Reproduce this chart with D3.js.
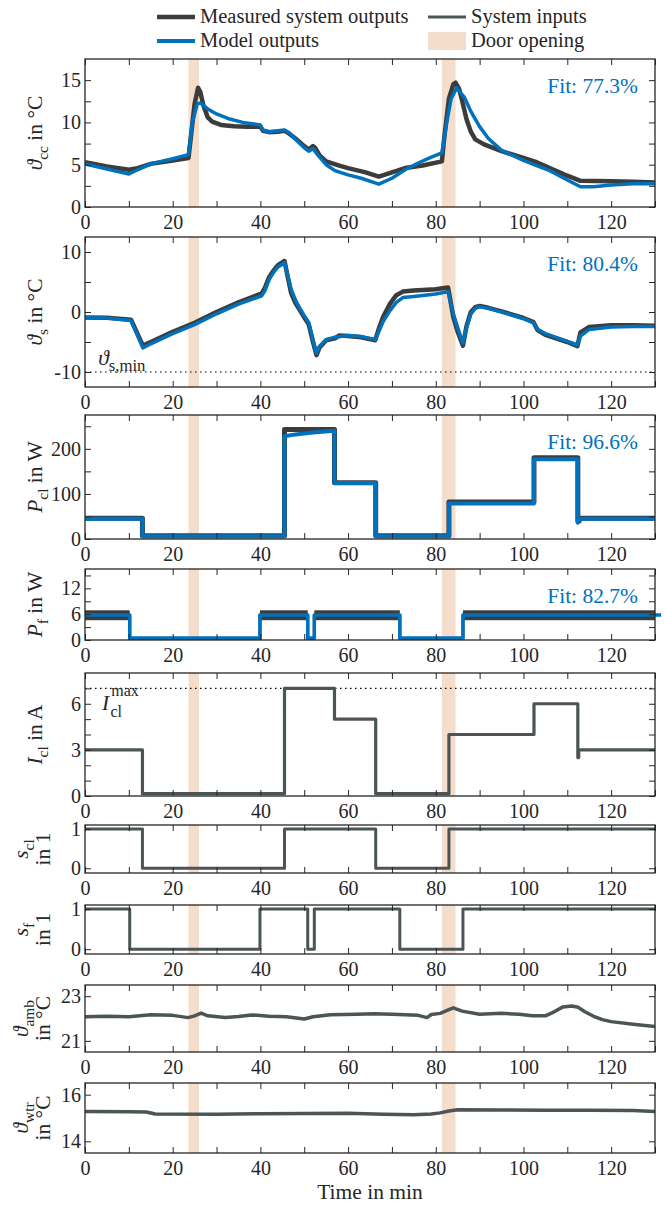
<!DOCTYPE html>
<html>
<head>
<meta charset="utf-8">
<script src="https://cdn.jsdelivr.net/npm/d3@7"></script>
<style>
body { margin: 0; background: #fff; }
</style>
</head>
<body>
<svg id="chart" width="664" height="1205" style="font-family: 'Liberation Serif', 'DejaVu Serif', serif;"></svg>
<script>
// ---- data ----
var doorOpenings = [[23.6, 26.0], [81.4, 84.5]];
var timeTicks = d3.range(0, 131, 10);

var ccMeasured = [[0,5.3],[5,4.8],[10,4.4],[12,4.6],[15,5.1],[20,5.5],[23.6,5.8],[24.3,9],[25,12.2],[25.8,14.1],[26.3,13.6],[27,12.0],[28,10.6],[29,10.1],[31,9.7],[34,9.55],[37,9.5],[40,9.5],[40.6,9.0],[42,8.85],[44,8.9],[45.5,9.0],[46.5,8.7],[48,8.1],[50,7.2],[51,6.8],[52,7.2],[52.5,7.0],[53.5,6.1],[55,5.4],[58,4.9],[60,4.6],[64,4.1],[67,3.6],[70,4.1],[73,4.6],[77,4.9],[81.4,5.4],[82,8.5],[83,12.8],[84,14.5],[84.5,14.7],[85.3,14.0],[86,12.6],[87,10.4],[88,8.9],[89,8.0],[91,7.4],[95,6.6],[100,5.8],[103,5.3],[106,4.6],[110,3.7],[113,3.1],[120,3.05],[125,3.0],[130,2.9]];
var ccModel = [[0,5.1],[5,4.5],[10,3.9],[12,4.4],[15,5.1],[20,5.7],[23.6,6.2],[24.5,10],[25.6,12.2],[26.3,12.3],[28,11.6],[30,11.0],[33,10.4],[36,10.0],[40,9.7],[40.6,9.1],[42,8.9],[45.5,9.1],[46.5,8.8],[48,8.0],[50,7.0],[51,6.6],[52,6.9],[53,6.2],[55,5.0],[57,4.3],[60,3.8],[63,3.4],[67,2.7],[70,3.4],[73,4.4],[76,5.2],[79,5.9],[81.4,6.4],[82.5,10],[83.5,12.8],[84.8,14.1],[85.5,13.6],[86.5,13.0],[88,11.3],[90,9.5],[92,8.1],[95,6.7],[100,5.5],[103,4.9],[106,4.3],[110,3.2],[113,2.4],[116,2.4],[120,2.6],[125,2.75],[130,2.75]];

var sMeasured = [[0,-0.9],[5,-0.95],[10.5,-1.3],[13.2,-5.6],[15,-5.0],[20,-3.3],[25,-1.8],[30,0],[35,1.6],[40.3,3.1],[41,4.0],[42,5.8],[43,6.9],[44,7.8],[45.5,8.5],[46.2,6.0],[47,3.2],[48,1.5],[49,0.3],[50,-0.9],[51,-2.0],[52,-5.0],[52.8,-7.2],[53.5,-5.9],[55,-4.7],[57,-4.4],[58,-3.9],[60,-4.0],[63,-4.2],[66.2,-4.7],[67,-2.8],[68,-0.8],[69.5,1.3],[71,2.8],[72.5,3.4],[75,3.6],[80,3.8],[82.8,4.1],[84,-0.8],[85,-3.3],[86.2,-5.6],[87,-2.4],[88,0],[89,0.8],[90,1.0],[92,0.7],[95,0.1],[100,-1.0],[102.3,-1.7],[103.2,-3.0],[105,-3.8],[110,-5.0],[112.3,-5.7],[113,-3.4],[115,-2.5],[120,-2.2],[125,-2.2],[130,-2.3]];
var sModel = [[0,-0.95],[5,-1.0],[10.5,-1.4],[13.2,-6.0],[15,-5.3],[20,-3.6],[25,-2.1],[30,-0.3],[35,1.3],[40.3,2.7],[41,3.5],[42,5.4],[43,6.6],[44,7.5],[45.5,8.2],[46.2,6.2],[47,3.8],[48,2.0],[49,0.6],[50,-0.6],[51,-1.7],[52,-4.6],[52.8,-6.9],[53.5,-5.7],[55,-4.6],[57,-4.2],[60,-3.9],[63,-4.1],[66.2,-4.6],[67,-3.3],[68,-1.6],[69.5,0.2],[71,1.6],[72.5,2.4],[75,2.6],[80,3.0],[82.8,3.4],[84,-0.3],[85,-2.6],[86.2,-5.2],[87,-2.6],[88,-0.3],[89,0.6],[90,0.9],[92,0.6],[95,0],[100,-1.1],[102.3,-1.8],[103.2,-2.9],[105,-3.6],[110,-4.9],[112.3,-5.5],[113,-4.0],[115,-2.9],[120,-2.5],[125,-2.4],[130,-2.4]];
var sMin = -10;

var pclMeasured = [[0,46],[13.1,7],[45.5,243],[56.9,125],[66.3,7],[83,82],[102.4,180],[112.4,40],[112.7,46],[130,46]];
var pclModel = [[0,45],[13.1,45],[13.1,6],[45.5,6],[45.5,228],[48,232],[52,236],[56.9,240],[56.9,124],[66.3,124],[66.3,6],[83,6],[83,79],[102.4,79],[102.4,177],[112.4,177],[112.4,36],[112.8,45],[130,45]];

var pfOff = 0.3;
var pfMeasured = [[0,5.8],[10.2,pfOff],[39.9,5.8],[50.8,pfOff],[52.3,5.8],[71.8,pfOff],[86.2,5.8],[130,5.8]];
var pfOnSegments = [[0,10.2],[39.9,50.8],[52.3,71.8],[86.2,130]];
var pfNoiseLow = 4.6;
var pfNoiseHigh = 6.9;
var pfModel = [[0,5.8],[10.2,0.45],[39.9,5.8],[50.8,0.45],[52.3,5.8],[71.8,0.45],[86.2,5.8],[131.4,5.8]];

var iclSteps = [[0,3],[13.1,0.15],[45.5,7],[56.9,5],[66.3,0.15],[83,4],[102.4,6],[112.4,2.5],[112.6,3],[130,3]];
var iclMax = 7;
var sclSteps = [[0,1],[13.1,0],[45.5,1],[66.3,0],[83,1],[130,1]];
var sfSteps = [[0,1],[10.2,0],[39.9,1],[50.8,0],[52.3,1],[71.8,0],[86.2,1],[130,1]];

var ambTemp = [[0,22.08],[5,22.1],[10,22.08],[15,22.17],[20,22.14],[23.5,22.04],[25,22.12],[26.5,22.24],[28,22.12],[32,22.04],[35,22.09],[38,22.16],[42,22.1],[46,22.08],[50,21.98],[52,22.08],[56,22.17],[62,22.19],[66,22.21],[70,22.19],[76,22.14],[78,22.04],[79,22.18],[81,22.23],[83,22.4],[84,22.48],[86,22.33],[90,22.19],[95,22.23],[99,22.19],[102,22.12],[105,22.12],[107,22.3],[109,22.52],[111,22.56],[112.5,22.5],[114,22.3],[116,22.1],[118,21.95],[120,21.86],[125,21.74],[130,21.64]];
var wtrTemp = [[0,15.28],[10,15.27],[14,15.26],[16,15.17],[30,15.16],[40,15.18],[50,15.19],[60,15.2],[68,15.16],[75,15.14],[79,15.17],[81,15.22],[83,15.3],[85,15.35],[95,15.34],[105,15.33],[115,15.33],[125,15.32],[130,15.28]];

var fitValues = ['77.3', '80.4', '96.6', '82.7'];

// ---- styles ----
var measuredColor = '#3c3c3c';
var modelColor = '#0072bd';
var inputColor = '#4b5555';
var doorColor = '#f5ddcc';
var axisColor = '#262626';
var serif = "'Liberation Serif', 'DejaVu Serif', serif";
var tickSize = 20;
var fontSize = 21.5;

var svg = d3.select('#chart');
var x = d3.scaleLinear().domain([0, 130]).range([85, 655]);

var panels = [
    {top: 59, bottom: 207, domain: [0, 17.5], ticks: d3.range(0, 16, 2.5), labels: [0, 5, 10, 15],
        label: [[{t: 'ϑ', i: 1}, {t: 'cc', sub: 1}, {t: ' in °C'}]]},
    {top: 237, bottom: 387, domain: [-12.5, 12.5], ticks: [-10, -5, 0, 5, 10], labels: [-10, 0, 10],
        label: [[{t: 'ϑ', i: 1}, {t: 's', sub: 1}, {t: ' in °C'}]]},
    {top: 415, bottom: 539, domain: [0, 275], ticks: d3.range(0, 251, 50), labels: [0, 100, 200],
        label: [[{t: 'P', i: 1}, {t: 'cl', sub: 1}, {t: ' in W'}]]},
    {top: 569, bottom: 640, domain: [0, 16.5], ticks: [0, 3, 6, 9, 12, 15], labels: [0, 6, 12],
        label: [[{t: 'P', i: 1}, {t: 'f', sub: 1}, {t: ' in W'}]]},
    {top: 673, bottom: 796, domain: [0, 8], ticks: d3.range(0, 8, 1), labels: [0, 3, 6],
        label: [[{t: 'I', i: 1}, {t: 'cl', sub: 1}, {t: ' in A'}]]},
    {top: 825, bottom: 873, domain: [-0.12, 1.1], ticks: [0, 1], labels: [0, 1],
        label: [[{t: 's', i: 1}, {t: 'cl', sub: 1}], [{t: 'in 1'}]]},
    {top: 905, bottom: 954, domain: [-0.12, 1.1], ticks: [0, 1], labels: [0, 1],
        label: [[{t: 's', i: 1}, {t: 'f', sub: 1}], [{t: 'in 1'}]]},
    {top: 985, bottom: 1052, domain: [20.5, 23.5], ticks: [21, 23], labels: [21, 23],
        label: [[{t: 'ϑ', i: 1}, {t: 'amb', sub: 1}], [{t: 'in °C'}]]},
    {top: 1083, bottom: 1153, domain: [13.5, 16.5], ticks: [14, 16], labels: [14, 16],
        label: [[{t: 'ϑ', i: 1}, {t: 'wtr', sub: 1}], [{t: 'in °C'}]]}
];

function addText(parent) {
    return parent.append('text')
        .style('font-family', serif)
        .attr('font-size', fontSize)
        .attr('fill', axisColor);
}

// writes a run of normal / italic / subscript pieces into a text element
function richText(text, parts, size, subScale) {
    var shift = 0;
    parts.forEach(function (p) {
        var ts = text.append('tspan').text(p.t);
        var want = p.sub ? size * 0.28 : 0;
        ts.attr('dy', want - shift);
        shift = want;
        if (p.sub) ts.attr('font-size', size * (subScale || 0.72));
        if (p.i) ts.attr('font-style', 'italic');
    });
}

function makePanel(p, idx) {
    var y = d3.scaleLinear().domain(p.domain).range([p.bottom, p.top]);
    var g = svg.append('g');

    svg.append('clipPath').attr('id', 'clip' + idx)
        .append('rect')
        .attr('x', x(0)).attr('y', p.top)
        .attr('width', x(130) - x(0)).attr('height', p.bottom - p.top);

    g.append('g').selectAll('rect')
        .data(doorOpenings)
        .enter().append('rect')
        .attr('x', function (d) { return x(d[0]); })
        .attr('width', function (d) { return x(d[1]) - x(d[0]); })
        .attr('y', p.top)
        .attr('height', p.bottom - p.top)
        .attr('fill', doorColor);

    var plot = g.append('g').attr('clip-path', 'url(#clip' + idx + ')');
    var free = g.append('g');
    var axes = g.append('g');

    axes.append('g')
        .attr('transform', 'translate(0,' + p.bottom + ')')
        .call(d3.axisBottom(x).tickValues(timeTicks).tickSize(-6).tickSizeOuter(0).tickPadding(8)
            .tickFormat(function (d) { return d % 20 === 0 ? d : ''; }));
    axes.append('g')
        .attr('transform', 'translate(0,' + p.top + ')')
        .call(d3.axisTop(x).tickValues(timeTicks).tickSize(-6).tickSizeOuter(0).tickFormat(''));
    axes.append('g')
        .attr('transform', 'translate(' + x(0) + ',0)')
        .call(d3.axisLeft(y).tickValues(p.ticks).tickSize(-6).tickSizeOuter(0).tickPadding(4)
            .tickFormat(function (d) { return p.labels.indexOf(d) >= 0 ? String(d) : ''; }));
    axes.append('g')
        .attr('transform', 'translate(' + x(130) + ',0)')
        .call(d3.axisRight(y).tickValues(p.ticks).tickSize(-6).tickSizeOuter(0).tickFormat(''));

    axes.selectAll('.domain').remove();
    axes.selectAll('g').attr('font-family', null).attr('font-size', tickSize);
    axes.selectAll('line').attr('stroke', axisColor).attr('stroke-width', 1);
    axes.selectAll('text').attr('fill', axisColor).style('font-family', serif);

    axes.append('rect')
        .attr('x', x(0)).attr('y', p.top)
        .attr('width', x(130) - x(0)).attr('height', p.bottom - p.top)
        .attr('fill', 'none').attr('stroke', axisColor).attr('stroke-width', 1.3);

    // y label, rotated
    var midY = (p.top + p.bottom) / 2;
    var baseX = p.label.length === 1 ? [42] : [28, 50];
    p.label.forEach(function (parts, k) {
        var t = addText(svg)
            .attr('transform', 'translate(' + baseX[k] + ',' + midY + ') rotate(-90)')
            .attr('text-anchor', 'middle');
        richText(t, parts, fontSize);
    });

    return {y: y, plot: plot, free: free, p: p};
}

function drawLine(target, y, data, color, width, curve) {
    var line = d3.line()
        .x(function (d) { return x(d[0]); })
        .y(function (d) { return y(d[1]); })
        .curve(curve || d3.curveLinear);
    target.append('path')
        .datum(data)
        .attr('d', line)
        .attr('fill', 'none')
        .attr('stroke', color)
        .attr('stroke-width', width)
        .attr('stroke-linejoin', 'round');
}

function drawDotted(target, y, value) {
    target.append('line')
        .attr('x1', x(0)).attr('x2', x(130))
        .attr('y1', y(value)).attr('y2', y(value))
        .attr('stroke', '#000').attr('stroke-width', 1.2)
        .attr('stroke-dasharray', '1.5,3.5');
}

function fitLabel(panel, value) {
    addText(svg)
        .attr('x', 638)
        .attr('y', panel.p.top + 34)
        .attr('text-anchor', 'end')
        .attr('fill', modelColor)
        .text('Fit: ' + value + '%');
}

var ps = panels.map(makePanel);

// 1: cooling coil temperature
drawLine(ps[0].plot, ps[0].y, ccMeasured, measuredColor, 4.5);
drawLine(ps[0].plot, ps[0].y, ccModel, modelColor, 3.5);

// 2: supply temperature
drawDotted(ps[1].plot, ps[1].y, sMin);
drawLine(ps[1].plot, ps[1].y, sMeasured, measuredColor, 4.5);
drawLine(ps[1].plot, ps[1].y, sModel, modelColor, 3.5);
var smin = addText(svg)
    .attr('x', x(3.0)).attr('y', ps[1].y(sMin) - 7);
richText(smin, [{t: 'ϑ', i: 1}, {t: 's,min', sub: 1}], fontSize, 0.78);

// 3: compressor power
drawLine(ps[2].plot, ps[2].y, pclMeasured, measuredColor, 5, d3.curveStepAfter);
drawLine(ps[2].plot, ps[2].y, pclModel, modelColor, 4);

// 4: fan power, measured is a noisy band
ps[3].plot.append('g').selectAll('rect')
    .data(pfOnSegments)
    .enter().append('rect')
    .attr('x', function (d) { return x(d[0]); })
    .attr('width', function (d) { return x(d[1]) - x(d[0]); })
    .attr('y', ps[3].y(pfNoiseHigh))
    .attr('height', ps[3].y(pfNoiseLow) - ps[3].y(pfNoiseHigh))
    .attr('fill', measuredColor);
drawLine(ps[3].plot, ps[3].y, pfMeasured, measuredColor, 3, d3.curveStepAfter);
drawLine(ps[3].free, ps[3].y, pfModel, modelColor, 3.5, d3.curveStepAfter);

// 5: compressor current
drawDotted(ps[4].plot, ps[4].y, iclMax);
drawLine(ps[4].plot, ps[4].y, iclSteps, inputColor, 3.2, d3.curveStepAfter);
addText(svg)
    .attr('x', x(3.9)).attr('y', ps[4].y(iclMax) + 22)
    .attr('font-style', 'italic')
    .text('I');
addText(svg)
    .attr('x', x(6.0)).attr('y', ps[4].y(iclMax) + 8)
    .attr('font-size', 16).text('max');
addText(svg)
    .attr('x', x(5.8)).attr('y', ps[4].y(iclMax) + 29)
    .attr('font-size', 16).text('cl');

// 6, 7: on/off signals
drawLine(ps[5].plot, ps[5].y, sclSteps, inputColor, 3, d3.curveStepAfter);
drawLine(ps[6].plot, ps[6].y, sfSteps, inputColor, 3, d3.curveStepAfter);

// 8, 9: ambient and water temperatures
drawLine(ps[7].plot, ps[7].y, ambTemp, inputColor, 3.5);
drawLine(ps[8].plot, ps[8].y, wtrTemp, inputColor, 3.5);

fitValues.forEach(function (v, i) { fitLabel(ps[i], v); });

addText(svg)
    .attr('x', (x(0) + x(130)) / 2).attr('y', 1199)
    .attr('text-anchor', 'middle')
    .text('Time in min');

// legend
var legendItems = [
    {name: 'Measured system outputs', kind: 'line', color: measuredColor, width: 4.5, col: 0, row: 0},
    {name: 'System inputs', kind: 'line', color: inputColor, width: 3, col: 1, row: 0},
    {name: 'Model outputs', kind: 'line', color: modelColor, width: 4, col: 0, row: 1},
    {name: 'Door opening', kind: 'rect', color: doorColor, col: 1, row: 1}
];
var legendCols = [157, 428];
var legendRows = [17, 41];

var legend = svg.append('g')
    .selectAll('g')
    .data(legendItems)
    .enter().append('g')
    .attr('transform', function (d) {
        return 'translate(' + legendCols[d.col] + ',' + legendRows[d.row] + ')';
    });
legend.filter(function (d) { return d.kind === 'line'; })
    .append('line')
    .attr('x1', 0).attr('x2', 38)
    .attr('stroke', function (d) { return d.color; })
    .attr('stroke-width', function (d) { return d.width; });
legend.filter(function (d) { return d.kind === 'rect'; })
    .append('rect')
    .attr('x', 0).attr('y', -9).attr('width', 38).attr('height', 18)
    .attr('fill', function (d) { return d.color; });
addText(legend)
    .attr('x', 43).attr('y', 6)
    .attr('font-size', 20.5)
    .text(function (d) { return d.name; });
</script>
</body>
</html>
